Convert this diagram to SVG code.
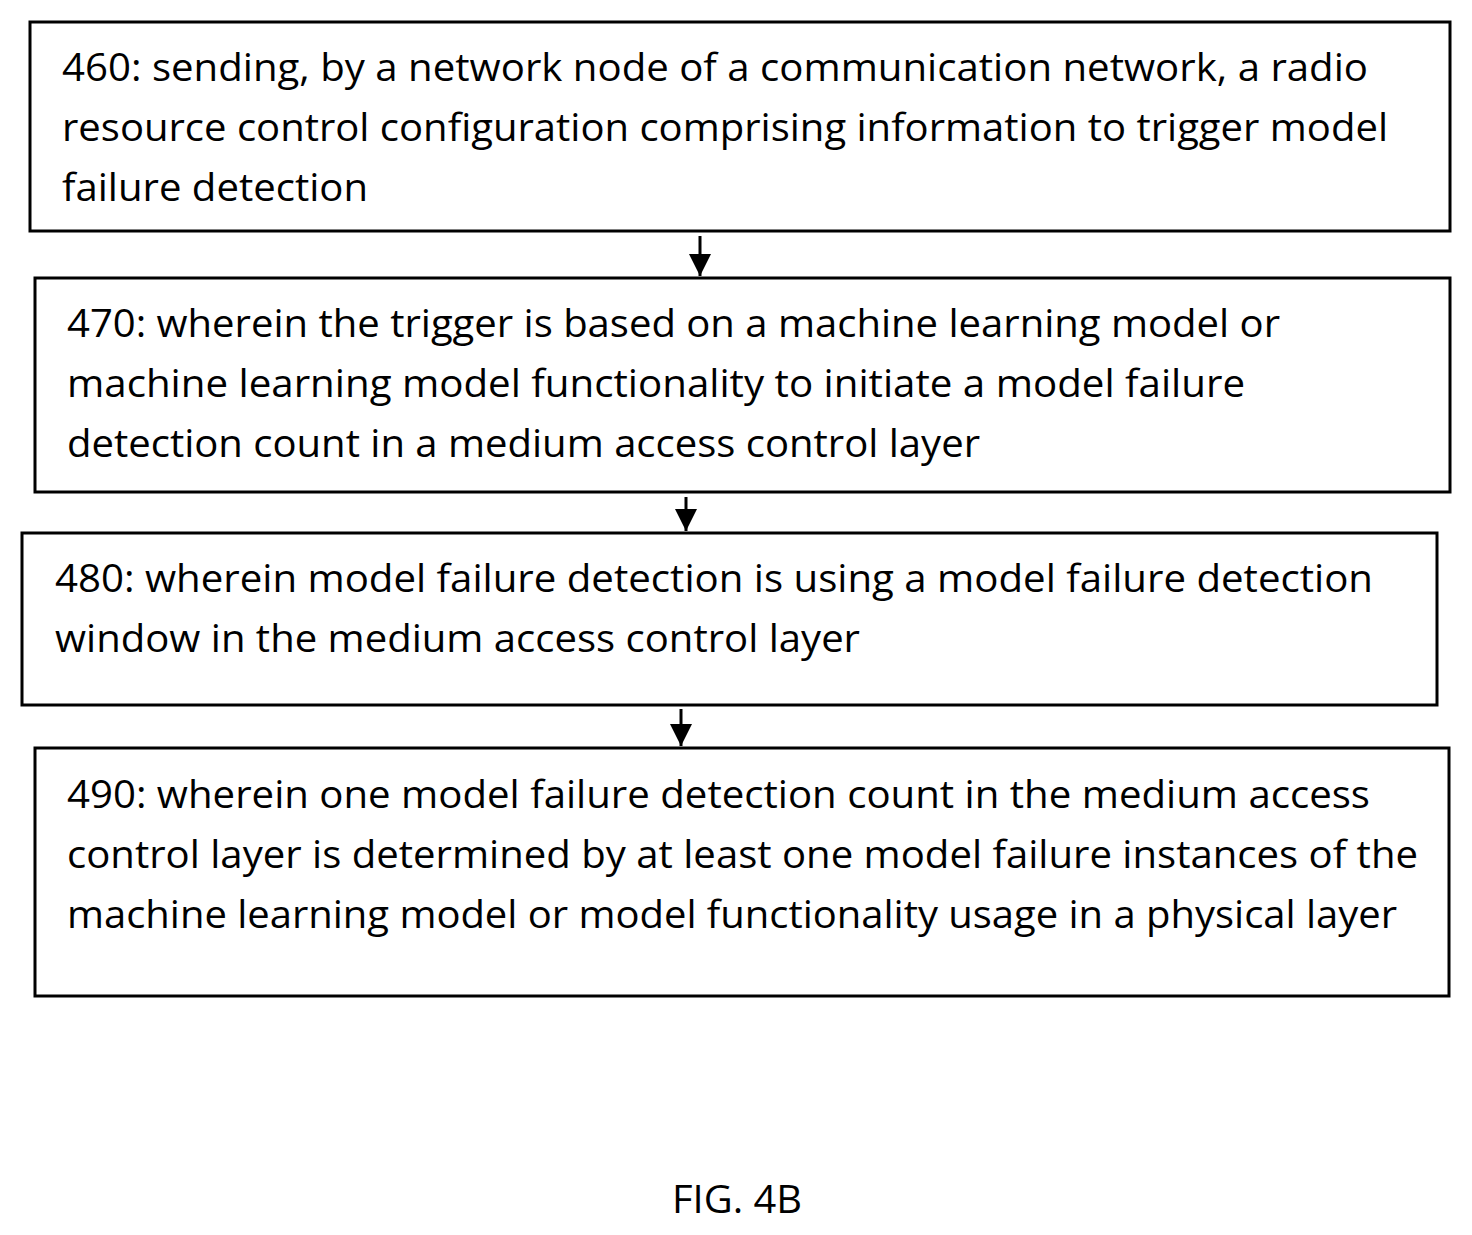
<svg xmlns="http://www.w3.org/2000/svg" width="1472" height="1235" viewBox="0 0 1472 1235">
<defs>
<style>
rect{fill:#fff;stroke:#000;stroke-width:3}
text{font-family:"Open Sans","Liberation Sans",sans-serif;font-size:38px;fill:#000}
line{stroke:#000;stroke-width:3}
</style>
<marker id="a" markerWidth="10" markerHeight="10" refX="8" refY="5" orient="auto" markerUnits="userSpaceOnUse" viewBox="0 0 10 10"><path d="M0,0L10,5L0,10z" transform="scale(1)"/></marker>
<marker id="b" markerWidth="24" markerHeight="22" refX="22" refY="11" orient="auto" markerUnits="userSpaceOnUse"><path d="M0,0L22,11L0,22z"/></marker>
</defs>
<rect width="1472" height="1235" style="stroke:none"/>
<g id="n460"><rect x="30" y="22" width="1420" height="209"/>
<text x="62" y="81" textLength="1306" lengthAdjust="spacingAndGlyphs">460: sending, by a network node of a communication network, a radio</text>
<text x="62" y="141" textLength="1326" lengthAdjust="spacingAndGlyphs">resource control configuration comprising information to trigger model</text>
<text x="62" y="201" textLength="306" lengthAdjust="spacingAndGlyphs">failure detection</text></g>
<g id="n470"><rect x="35" y="278" width="1415" height="214"/>
<text x="67" y="337" textLength="1213" lengthAdjust="spacingAndGlyphs">470: wherein the trigger is based on a machine learning model or</text>
<text x="67" y="397" textLength="1178" lengthAdjust="spacingAndGlyphs">machine learning model functionality to initiate a model failure</text>
<text x="67" y="457" textLength="913" lengthAdjust="spacingAndGlyphs">detection count in a medium access control layer</text></g>
<g id="n480"><rect x="22" y="533" width="1415" height="172"/>
<text x="55" y="592" textLength="1318" lengthAdjust="spacingAndGlyphs">480: wherein model failure detection is using a model failure detection</text>
<text x="55" y="652" textLength="805" lengthAdjust="spacingAndGlyphs">window in the medium access control layer</text></g>
<g id="n490"><rect x="35" y="748" width="1414" height="248"/>
<text x="67" y="808" textLength="1303" lengthAdjust="spacingAndGlyphs">490: wherein one model failure detection count in the medium access</text>
<text x="67" y="868" textLength="1351" lengthAdjust="spacingAndGlyphs">control layer is determined by at least one model failure instances of the</text>
<text x="67" y="928" textLength="1330" lengthAdjust="spacingAndGlyphs">machine learning model or model functionality usage in a physical layer</text></g>
<g id="connectors">
<line x1="700" y1="236" x2="700" y2="276" marker-end="url(#b)"/>
<line x1="686" y1="497" x2="686" y2="531" marker-end="url(#b)"/>
<line x1="681" y1="709" x2="681" y2="746" marker-end="url(#b)"/>
</g>
<text x="737" y="1213" text-anchor="middle" textLength="130" lengthAdjust="spacingAndGlyphs">FIG. 4B</text>
</svg>
